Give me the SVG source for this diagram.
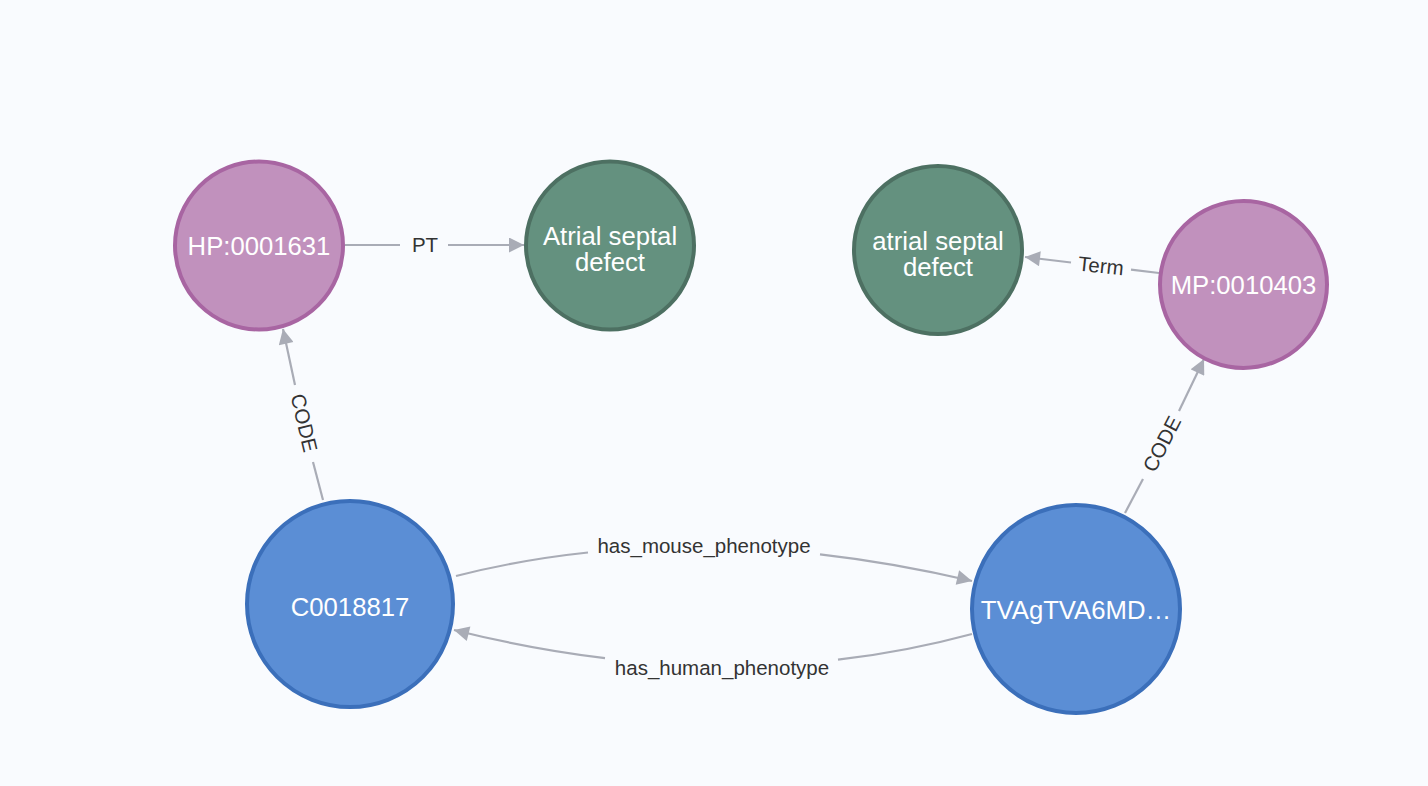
<svg xmlns="http://www.w3.org/2000/svg" width="1428" height="786" viewBox="0 0 1428 786">
<style>
.bg{fill:#F9FBFE}
.pink{fill:#C191BD;stroke:#A865A2;stroke-width:4}
.green{fill:#64917F;stroke:#4D7062;stroke-width:4}
.blue{fill:#5B8ED5;stroke:#3B6FBA;stroke-width:4}
.nt{font-family:"Liberation Sans",Arial,Helvetica,sans-serif;font-size:25.7px;fill:#FFFFFF;text-anchor:middle}
.edge{fill:none;stroke:#A9ACB6;stroke-width:2.2}
.el{font-family:"Liberation Sans",Arial,Helvetica,sans-serif;font-size:20.5px;fill:#333333;text-anchor:middle}
</style>
<defs>
<marker id="arr" viewBox="0 0 10 10" refX="10" refY="5" markerUnits="userSpaceOnUse" markerWidth="17" markerHeight="15" orient="auto">
<path d="M0,0 L10,5 L0,10 z" fill="#A9ACB6"/>
</marker>
</defs>
<rect class="bg" x="0" y="0" width="1428" height="786"/>
<g id="connectors">
<g id="e-pt">
<path class="edge" d="M345,245 L400,245"/>
<path class="edge" d="M448,245 L524,245" marker-end="url(#arr)"/>
<text class="el" x="425" y="252">PT</text>
</g>
<g id="e-term">
<path class="edge" d="M1159,273 L1131,269.7"/>
<path class="edge" d="M1071,262.5 L1025,257" marker-end="url(#arr)"/>
<text class="el" x="1101" y="273" transform="rotate(6 1101 266)">Term</text>
</g>
<g id="e-code-left">
<path class="edge" d="M323,500 L313,462"/>
<path class="edge" d="M295,385 L283,329" marker-end="url(#arr)"/>
<text class="el" x="304" y="430" transform="rotate(76.8 304 423)">CODE</text>
</g>
<g id="e-code-right">
<path class="edge" d="M1125,513 L1143,479"/>
<path class="edge" d="M1179,411 L1204,359" marker-end="url(#arr)"/>
<text class="el" x="1162" y="451" transform="rotate(-62.8 1162 444)">CODE</text>
</g>
<g id="e-mouse">
<path class="edge" d="M456,576 Q520.5,559.6 588,552.5"/>
<path class="edge" d="M820,554.3 Q894.4,562.7 972,581" marker-end="url(#arr)"/>
<text class="el" x="704" y="553">has_mouse_phenotype</text>
</g>
<g id="e-human">
<path class="edge" d="M972,634 Q906.3,651.8 838,659.7"/>
<path class="edge" d="M605,658.1 Q530.9,649.3 454,630" marker-end="url(#arr)"/>
<text class="el" x="722" y="675">has_human_phenotype</text>
</g>
</g>
<g id="n-hp">
<circle class="pink" cx="259" cy="245.5" r="84"/>
<text class="nt" x="259" y="255">HP:0001631</text>
</g>
<g id="n-asd1">
<circle class="green" cx="610" cy="245.5" r="84"/>
<text class="nt" x="610" y="245">Atrial septal</text>
<text class="nt" x="610" y="271">defect</text>
</g>
<g id="n-asd2">
<circle class="green" cx="938" cy="250" r="84"/>
<text class="nt" x="938" y="250">atrial septal</text>
<text class="nt" x="938" y="276">defect</text>
</g>
<g id="n-mp">
<circle class="pink" cx="1243.5" cy="284.5" r="83.5"/>
<text class="nt" x="1243.5" y="294">MP:0010403</text>
</g>
<g id="n-c">
<circle class="blue" cx="350" cy="604" r="103"/>
<text class="nt" x="350" y="616">C0018817</text>
</g>
<g id="n-tv">
<circle class="blue" cx="1076" cy="609" r="104"/>
<text class="nt" x="1076" y="619">TVAgTVA6MD…</text>
</g>
</svg>
